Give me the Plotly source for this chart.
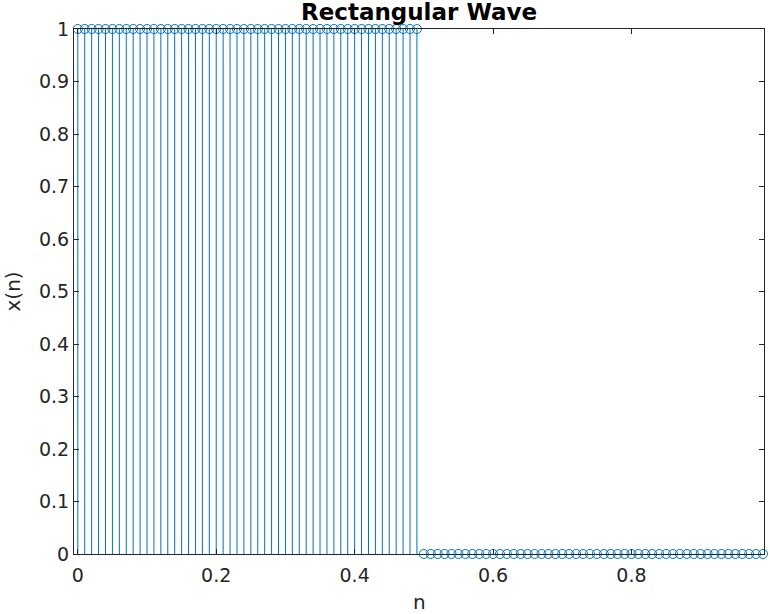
import numpy as np
import plotly.graph_objects as go

# sample points and values of the rectangular wave
n = [round(i * 0.01, 2) for i in range(100)]
x_n = [1] * 50 + [0] * 50

y_ticks = [round(i * 0.1, 1) for i in range(11)]
x_ticks = [0, 0.2, 0.4, 0.6, 0.8]

stem_color = "#0072BD"
axis_color = "#262626"

# stems as vertical segments from 0 to the value
stem_x = []
stem_y = []
for xi, yi in zip(n, x_n):
    stem_x += [xi, xi, None]
    stem_y += [0, yi, None]

fig = go.Figure()
fig.add_trace(go.Scatter(x=stem_x, y=stem_y, mode="lines",
                         line=dict(color=stem_color, width=1),
                         hoverinfo="skip", showlegend=False))
fig.add_trace(go.Scatter(x=n, y=x_n, mode="markers",
                         marker=dict(symbol="circle-open", size=9,
                                     color=stem_color, line=dict(width=1)),
                         showlegend=False, cliponaxis=False))

fig.update_layout(
    width=770, height=614,
    margin=dict(l=74, r=6, t=29, b=60),
    paper_bgcolor="white", plot_bgcolor="white",
    font=dict(family="DejaVu Sans", size=19, color=axis_color),
    title=dict(text="<b>Rectangular Wave</b>", xref="paper", x=0.5, xanchor="center",
               y=1 - 12 / 614, yanchor="middle",
               font=dict(size=23, color="black")),
    annotations=[
        dict(text="n", xref="paper", yref="paper", x=0.5, y=-48 / 525,
             xanchor="center", yanchor="middle", showarrow=False,
             font=dict(size=20, color=axis_color)),
        dict(text="x(n)", xref="paper", yref="paper", x=-62 / 690, y=0.5,
             xanchor="center", yanchor="middle", showarrow=False, textangle=-90,
             font=dict(size=20, color=axis_color)),
    ],
)
fig.update_xaxes(range=[-0.0055, 0.9915], tickvals=x_ticks,
                 ticktext=["0", "0.2", "0.4", "0.6", "0.8"],
                 showgrid=False, zeroline=False, showline=True, linecolor=axis_color,
                 linewidth=1, mirror="ticks", ticks="inside", ticklen=5,
                 tickcolor=axis_color, automargin=False, ticklabelstandoff=4)
fig.update_yaxes(range=[0, 1], tickvals=y_ticks,
                 ticktext=["0" if v == 0 else ("1" if v == 1 else str(v)) for v in y_ticks],
                 showgrid=False, zeroline=False, showline=True, linecolor=axis_color,
                 linewidth=1, mirror="ticks", ticks="inside", ticklen=5,
                 tickcolor=axis_color, automargin=False)

# page has a default body margin; drop it so the figure sits at the corner
fig.write_html("out.html", config={"displayModeBar": False},
               post_script="document.body.style.margin='0';")
